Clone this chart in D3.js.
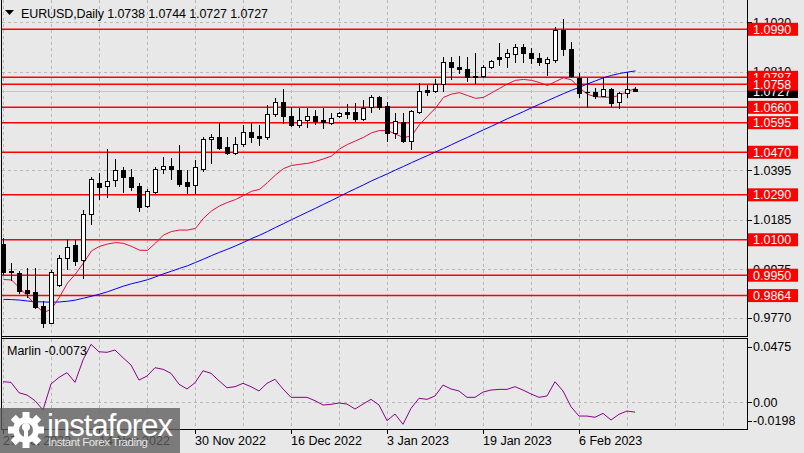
<!DOCTYPE html>
<html><head><meta charset="utf-8">
<script src="https://cdn.jsdelivr.net/npm/d3@7"></script>
<style>
html,body{margin:0;padding:0;background:#e8e8e8;}
svg{display:block;font-family:"Liberation Sans",Arial,sans-serif;}
</style></head><body>
<svg id="c" width="804" height="453"></svg>
<script>
const dates = ["2022-10-27","2022-10-28","2022-10-31",
"2022-11-01","2022-11-02","2022-11-03","2022-11-04","2022-11-07","2022-11-08","2022-11-09","2022-11-10","2022-11-11","2022-11-14","2022-11-15","2022-11-16","2022-11-17","2022-11-18","2022-11-21","2022-11-22","2022-11-23","2022-11-24","2022-11-25","2022-11-28","2022-11-29","2022-11-30",
"2022-12-01","2022-12-02","2022-12-05","2022-12-06","2022-12-07","2022-12-08","2022-12-09","2022-12-12","2022-12-13","2022-12-14","2022-12-15","2022-12-16","2022-12-19","2022-12-20","2022-12-21","2022-12-22","2022-12-23","2022-12-26","2022-12-27","2022-12-28","2022-12-29","2022-12-30",
"2023-01-02","2023-01-03","2023-01-04","2023-01-05","2023-01-06","2023-01-09","2023-01-10","2023-01-11","2023-01-12","2023-01-13","2023-01-16","2023-01-17","2023-01-18","2023-01-19","2023-01-20","2023-01-23","2023-01-24","2023-01-25","2023-01-26","2023-01-27","2023-01-30","2023-01-31",
"2023-02-01","2023-02-02","2023-02-03","2023-02-06","2023-02-07","2023-02-08","2023-02-09","2023-02-10","2023-02-13","2023-02-14","2023-02-15"];

const open  = [1.0082,0.9968,0.9961,0.9888,0.9878,0.9820,0.9749,0.9908,1.0022,1.0077,1.0015,1.0208,1.0340,1.0326,1.0352,1.0395,1.0364,1.0327,1.0243,1.0303,1.0398,1.0412,1.0395,1.0344,1.0332,1.0399,1.0525,1.0533,1.0491,1.0466,1.0504,1.0557,1.0539,1.0533,1.0631,1.0681,1.0625,1.0584,1.0605,1.0623,1.0607,1.0595,1.0623,1.0642,1.0639,1.0610,1.0660,1.0702,1.0666,1.0550,1.0599,1.0519,1.0642,1.0733,1.0730,1.0759,1.0850,1.0829,1.0821,1.0794,1.0793,1.0829,1.0872,1.0872,1.0886,1.0914,1.0891,1.0867,1.0846,1.0860,1.0987,1.0905,1.0785,1.0726,1.0724,1.0710,1.0736,1.0681,1.0719,1.0738];
const high  = [1.0108,1.0001,0.9968,0.9982,0.9982,0.9842,0.9972,1.0036,1.0102,1.0099,1.0226,1.0367,1.0381,1.0483,1.0442,1.0409,1.0398,1.0339,1.0314,1.0407,1.0451,1.0445,1.0501,1.0395,1.0437,1.0536,1.0547,1.0593,1.0533,1.0536,1.0585,1.0593,1.0585,1.0670,1.0701,1.0736,1.0663,1.0659,1.0659,1.0649,1.0659,1.0635,1.0639,1.0673,1.0677,1.0691,1.0712,1.0708,1.0684,1.0635,1.0635,1.0649,1.0764,1.0755,1.0779,1.0872,1.0872,1.0877,1.0874,1.0889,1.0839,1.0860,1.0931,1.0905,1.0927,1.0928,1.0910,1.0889,1.0874,1.0998,1.1034,1.0938,1.0804,1.0783,1.0741,1.0790,1.0741,1.0724,1.0811,1.0744];
const low   = [0.9955,0.9930,0.9876,0.9859,0.9810,0.9733,0.9747,0.9905,0.9975,0.9993,0.9937,1.0166,1.0271,1.0280,1.0329,1.0303,1.0311,1.0223,1.0240,1.0299,1.0381,1.0356,1.0329,1.0297,1.0297,1.0392,1.0426,1.0483,1.0461,1.0461,1.0497,1.0515,1.0501,1.0527,1.0623,1.0593,1.0581,1.0578,1.0578,1.0588,1.0571,1.0588,1.0618,1.0616,1.0602,1.0607,1.0639,1.0652,1.0519,1.0529,1.0515,1.0483,1.0635,1.0712,1.0726,1.0730,1.0779,1.0804,1.0773,1.0764,1.0790,1.0825,1.0839,1.0832,1.0850,1.0850,1.0846,1.0839,1.0797,1.0853,1.0881,1.0790,1.0705,1.0663,1.0698,1.0708,1.0666,1.0657,1.0705,1.0727];
const close = [0.9965,0.9964,0.9885,0.9876,0.9817,0.9749,0.9963,1.0022,1.0071,1.0012,1.0208,1.0356,1.0325,1.0347,1.0394,1.0364,1.0325,1.0240,1.0306,1.0398,1.0412,1.0398,1.0335,1.0329,1.0407,1.0526,1.0533,1.0487,1.0466,1.0504,1.0557,1.0536,1.0532,1.0631,1.0681,1.0623,1.0584,1.0607,1.0623,1.0602,1.0599,1.0614,1.0635,1.0632,1.0611,1.0659,1.0702,1.0663,1.0550,1.0604,1.0519,1.0645,1.0729,1.0726,1.0757,1.0850,1.0829,1.0821,1.0790,1.0790,1.0829,1.0856,1.0866,1.0889,1.0914,1.0889,1.0867,1.0850,1.0863,1.0987,1.0907,1.0794,1.0722,1.0724,1.0709,1.0736,1.0677,1.0719,1.0738,1.0727];

const maFast = [0.9932,0.9930,0.9896,0.9862,0.9824,0.9792,0.9807,0.9858,0.9917,0.9955,1.0002,1.0053,1.0072,1.0082,1.0088,1.0085,1.0072,1.0056,1.0055,1.0086,1.0120,1.0135,1.0141,1.0141,1.0148,1.0191,1.0222,1.0243,1.0258,1.0270,1.0287,1.0305,1.0313,1.0342,1.0374,1.0401,1.0414,1.0419,1.0423,1.0431,1.0442,1.0454,1.0484,1.0503,1.0518,1.0533,1.0552,1.0562,1.0562,1.0547,1.0532,1.0539,1.0587,1.0622,1.0657,1.0702,1.0716,1.0722,1.0710,1.0698,1.0702,1.0721,1.0740,1.0759,1.0774,1.0778,1.0774,1.0765,1.0752,1.0769,1.0785,1.0776,1.0742,1.0715,1.0705,1.0703,1.0702,1.0711,1.0727,1.0740];
const maSlow = [0.9848,0.9847,0.9845,0.9841,0.9838,0.9837,0.9836,0.9837,0.9840,0.9845,0.9853,0.9861,0.9870,0.9880,0.9892,0.9904,0.9914,0.9922,0.9931,0.9943,0.9956,0.9967,0.9979,0.9990,1.0004,1.0018,1.0033,1.0047,1.0060,1.0074,1.0089,1.0105,1.0119,1.0135,1.0152,1.0168,1.0185,1.0201,1.0217,1.0233,1.0250,1.0266,1.0283,1.0300,1.0316,1.0332,1.0349,1.0364,1.0379,1.0395,1.0410,1.0426,1.0441,1.0456,1.0471,1.0486,1.0502,1.0518,1.0533,1.0549,1.0565,1.0580,1.0596,1.0612,1.0627,1.0642,1.0658,1.0673,1.0688,1.0703,1.0718,1.0732,1.0745,1.0759,1.0772,1.0785,1.0795,1.0803,1.0809,1.0814];
const marlin = [0.0153,0.0148,0.0071,0.0054,0.0012,-0.0057,0.0136,0.0185,0.0220,0.0148,0.0314,0.0430,0.0375,0.0371,0.0388,0.0331,0.0277,0.0165,0.0195,0.0257,0.0245,0.0215,0.0134,0.0099,0.0145,0.0234,0.0215,0.0160,0.0108,0.0116,0.0141,0.0116,0.0084,0.0141,0.0171,0.0099,0.0037,0.0037,0.0037,0.0012,-0.0020,-0.0015,-0.0005,-0.0013,-0.0050,-0.0013,0.0022,-0.0020,-0.0136,-0.0087,-0.0163,-0.0045,0.0030,0.0022,0.0047,0.0128,0.0099,0.0084,0.0037,0.0037,0.0076,0.0091,0.0096,0.0096,0.0116,0.0091,0.0062,0.0037,0.0047,0.0153,0.0084,-0.0033,-0.0102,-0.0102,-0.0111,-0.0082,-0.0131,-0.0089,-0.0065,-0.0073];

const levels = [1.0990, 1.0787, 1.0758, 1.0660, 1.0595, 1.0470, 1.0290, 1.0100, 0.9950, 0.9864];
const priceTicks = [1.1020, 1.0810, 1.0600, 1.0395, 1.0185, 0.9975, 0.9770];
const marlinTicks = [0.0475, 0.00, -0.0198];
const marlinTickLabels = ["0.0475", "0.00", "-0.0198"];
const currentPrice = 1.0727;
const symbolTitle = "EURUSD,Daily";
const titleValues = "1.0738 1.0744 1.0727 1.0727";
const indicatorTitle = "Marlin -0.0073";

const svg = d3.select("#c");
const plotL = 1.5, plotR = 747.5, mainB = 336.5, indT = 338.5, indB = 429.5;
const x = d3.scaleLinear().domain([0, 1]).range([3.5, 11.5]);
const y = d3.scaleLinear().domain([0.9770, 1.1020]).range([317.8, 22.2]);
const ym = d3.scaleLinear().domain([-0.0198, 0.0475]).range([429, 338.3]);
const parse = d3.timeParse("%Y-%m-%d");
const fmt = d3.timeFormat("%-d %b %Y");
const gridIdx = d3.range(0, 93, 6).filter(i => x(i) < plotR);
const labelIdx = d3.range(0, dates.length, 12);
const f4 = d3.format(".4f");

svg.append("rect").attr("width", 804).attr("height", 453).attr("fill", "#e8e8e8");

const defs = svg.append("defs");
defs.append("clipPath").attr("id", "mainClip").append("rect")
  .attr("x", 2).attr("y", 0).attr("width", plotR - 2).attr("height", mainB);
defs.append("clipPath").attr("id", "indClip").append("rect")
  .attr("x", 2).attr("y", indT + 0.5).attr("width", plotR - 2).attr("height", indB - indT - 1);

const gridStyle = s => s.attr("stroke", "#b8b8b8").attr("stroke-width", 1).attr("stroke-dasharray", "3,3").attr("shape-rendering", "crispEdges");

// main grid
const main = svg.append("g").attr("clip-path", "url(#mainClip)");
main.selectAll(".vg").data(gridIdx).join("line")
  .attr("x1", d => Math.round(x(d)) - 0.5).attr("x2", d => Math.round(x(d)) - 0.5)
  .attr("y1", 0).attr("y2", mainB).call(gridStyle);
main.selectAll(".hg").data(priceTicks).join("line")
  .attr("x1", plotL).attr("x2", plotR)
  .attr("y1", d => Math.round(y(d)) + 0.5).attr("y2", d => Math.round(y(d)) + 0.5).call(gridStyle);

// current price line
main.append("line").attr("x1", plotL).attr("x2", plotR)
  .attr("y1", Math.round(y(currentPrice)) + 0.5).attr("y2", Math.round(y(currentPrice)) + 0.5)
  .attr("stroke", "#c4c4c4").attr("stroke-width", 1);

// levels
main.selectAll(".lvl").data(levels).join("line")
  .attr("x1", plotL).attr("x2", plotR)
  .attr("y1", d => y(d)).attr("y2", d => y(d))
  .attr("stroke", "#ff0000").attr("stroke-width", 1.5);

// moving averages
const idx = d3.range(dates.length);
main.append("path").datum(idx)
  .attr("d", d3.line().x(i => x(i)).y(i => y(maSlow[i])))
  .attr("fill", "none").attr("stroke", "#0000ff").attr("stroke-width", 1);
main.append("path").datum(idx)
  .attr("d", d3.line().x(i => x(i)).y(i => y(maFast[i])))
  .attr("fill", "none").attr("stroke", "#e0103c").attr("stroke-width", 1);

// candles
const cg = main.append("g");
idx.forEach(i => {
  const cx = x(i);
  cg.append("line").attr("x1", cx).attr("x2", cx)
    .attr("y1", Math.round(y(high[i]))).attr("y2", Math.round(y(low[i])) + 1)
    .attr("stroke", "#000").attr("stroke-width", 1);
  const top = Math.round(y(Math.max(open[i], close[i])));
  const bot = Math.round(y(Math.min(open[i], close[i])));
  const up = close[i] >= open[i];
  if (bot - top < 1) {
    cg.append("line").attr("x1", cx - 2.5).attr("x2", cx + 2.5)
      .attr("y1", top + 0.5).attr("y2", top + 0.5).attr("stroke", "#000");
  } else {
    cg.append("rect").attr("x", cx - 2).attr("y", top + 0.5)
      .attr("width", 4).attr("height", bot - top)
      .attr("fill", up ? "#fff" : "#000").attr("stroke", "#000").attr("stroke-width", 1);
  }
});

// indicator panel
const ind = svg.append("g").attr("clip-path", "url(#indClip)");
ind.selectAll(".vg").data(gridIdx).join("line")
  .attr("x1", d => Math.round(x(d)) - 0.5).attr("x2", d => Math.round(x(d)) - 0.5)
  .attr("y1", indT).attr("y2", indB).call(gridStyle);
ind.append("line").attr("x1", plotL).attr("x2", plotR)
  .attr("y1", Math.round(ym(0)) + 0.5).attr("y2", Math.round(ym(0)) + 0.5).call(gridStyle);
ind.append("path").datum(idx)
  .attr("d", d3.line().x(i => x(i) - 0.5).y(i => ym(marlin[i])))
  .attr("fill", "none").attr("stroke", "#8b008b").attr("stroke-width", 1);

// frames
const frame = svg.append("g").attr("stroke", "#000").attr("stroke-width", 1).attr("fill", "none").attr("shape-rendering", "crispEdges");
frame.append("line").attr("x1", plotL).attr("x2", plotL).attr("y1", 0).attr("y2", indB);
frame.append("line").attr("x1", plotR).attr("x2", plotR).attr("y1", 0).attr("y2", mainB);
frame.append("line").attr("x1", plotR).attr("x2", plotR).attr("y1", indT).attr("y2", indB);
frame.append("line").attr("x1", plotL).attr("x2", plotR).attr("y1", mainB).attr("y2", mainB);
frame.append("line").attr("x1", plotL).attr("x2", plotR).attr("y1", indT).attr("y2", indB - (indB - indT));
frame.append("line").attr("x1", plotL).attr("x2", plotR).attr("y1", indB).attr("y2", indB);

// price axis
const ax = svg.append("g").attr("font-size", "12.5px");
ax.selectAll(".pt").data(priceTicks).join("line")
  .attr("x1", plotR).attr("x2", plotR + 4)
  .attr("y1", d => Math.round(y(d)) + 0.5).attr("y2", d => Math.round(y(d)) + 0.5)
  .attr("stroke", "#000").attr("shape-rendering", "crispEdges");
ax.selectAll(".ptl").data(priceTicks).join("text")
  .attr("x", 753).attr("y", d => y(d)).attr("dy", "0.36em")
  .attr("fill", "#000").text(d => f4(d));

// current price box
ax.append("rect").attr("x", 748).attr("y", y(currentPrice) - 6.5).attr("width", 50).attr("height", 13).attr("fill", "#000");
ax.append("text").attr("x", 753).attr("y", y(currentPrice)).attr("dy", "0.36em").attr("fill", "#fff").text(f4(currentPrice));

// level boxes
const lb = ax.selectAll(".lb").data(levels).join("g");
lb.append("rect").attr("x", 748).attr("y", d => y(d) - 6.5).attr("width", 50).attr("height", 13).attr("fill", "#ff0000");
lb.append("text").attr("x", 753).attr("y", d => y(d)).attr("dy", "0.36em").attr("fill", "#fff").text(d => f4(d));

// marlin axis
const mOff = [8.5, 0, -8.5];
ax.selectAll(".mt").data(marlinTicks).join("line")
  .attr("x1", plotR).attr("x2", plotR + 4)
  .attr("y1", (d, i) => Math.round(ym(d) + mOff[i]) + 0.5).attr("y2", (d, i) => Math.round(ym(d) + mOff[i]) + 0.5)
  .attr("stroke", "#000").attr("shape-rendering", "crispEdges");
ax.selectAll(".mtl").data(marlinTicks).join("text")
  .attr("x", 753).attr("y", (d, i) => ym(d) + mOff[i]).attr("dy", "0.36em")
  .attr("fill", "#000").text((d, i) => marlinTickLabels[i]);

// date axis
ax.selectAll(".dt").data(labelIdx).join("line")
  .attr("x1", d => Math.round(x(d)) - 0.5).attr("x2", d => Math.round(x(d)) - 0.5)
  .attr("y1", indB).attr("y2", indB + 4)
  .attr("stroke", "#000").attr("shape-rendering", "crispEdges");
ax.selectAll(".dtl").data(labelIdx).join("text")
  .attr("x", d => x(d) - 0.5).attr("y", 440.5).attr("dy", "0.36em")
  .attr("fill", "#000").text(d => fmt(parse(dates[d])));

// titles
svg.append("path").attr("d", "M5,10 L14,10 L9.5,15 Z").attr("fill", "#000");
svg.append("text").attr("x", 21).attr("y", 13.5).attr("dy", "0.36em").attr("font-size", "12.5px")
  .attr("fill", "#000").text(symbolTitle + " " + titleValues).attr("textLength", 247);
svg.append("text").attr("x", 7).attr("y", 350).attr("dy", "0.36em").attr("font-size", "12.5px")
  .attr("fill", "#000").text(indicatorTitle);

// watermark
const wm = svg.append("g");
wm.append("rect").attr("x", 0).attr("y", 408).attr("width", 180).attr("height", 45).attr("fill", "#5c5c5c").attr("opacity", 0.78);
const gear = wm.append("g").attr("transform", "translate(26,430)").attr("fill", "#fff");
d3.range(8).forEach(k => {
  gear.append("rect").attr("x", -3.5).attr("y", -18).attr("width", 7).attr("height", 8)
    .attr("transform", `rotate(${k * 45})`);
});
gear.append("circle").attr("r", 13);
gear.append("circle").attr("r", 7).attr("fill", "#7a7a7a");
gear.append("rect").attr("x", -2).attr("y", -3).attr("width", 4).attr("height", 16);
gear.append("circle").attr("cy", -3).attr("r", 4);
wm.append("text").attr("x", 47).attr("y", 436).attr("font-size", "31px").attr("fill", "#fff")
  .attr("textLength", 126).text("instaforex");
wm.append("text").attr("x", 48).attr("y", 446).attr("font-size", "11.5px").attr("fill", "#e6e6e6")
  .attr("textLength", 100).text("Instant Forex Trading");
</script>
</body></html>
